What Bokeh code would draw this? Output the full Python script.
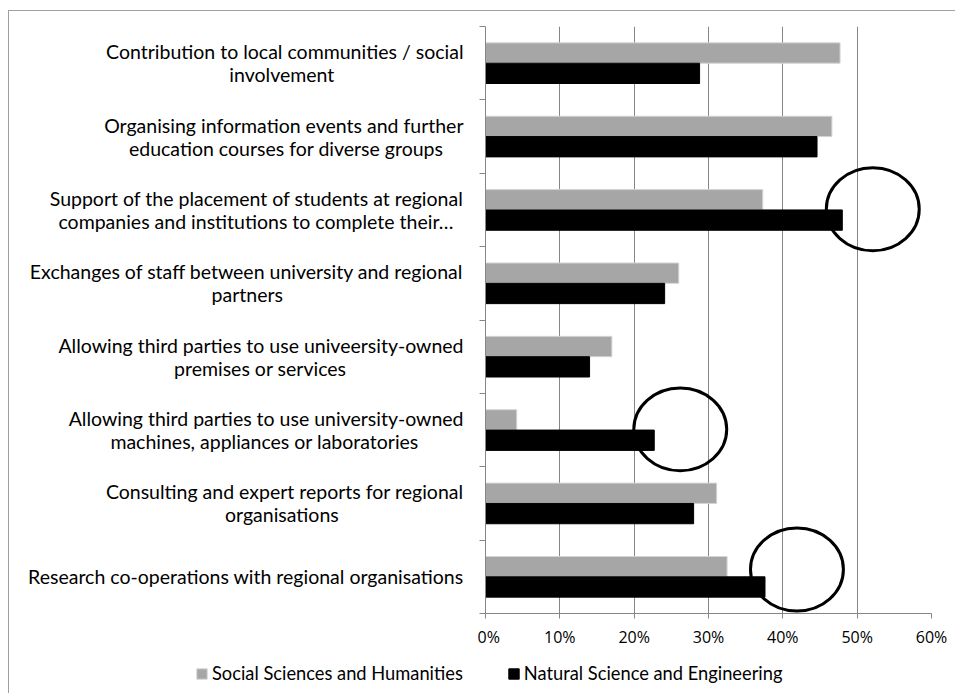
from bokeh.plotting import figure
from bokeh.layouts import column, row
from bokeh.models import (Range1d, LinearAxis, FixedTicker,
                          PrintfTickFormatter, Legend, LegendItem, ColumnDataSource)
from bokeh.core.properties import value
from bokeh.embed import file_html
from bokeh.resources import INLINE

# ---------------- data ----------------
categories = [
    "Contribution to local communities / social\ninvolvement",
    "Organising information events and further\neducation courses for diverse groups",
    "Support of the placement of students at regional\ncompanies and institutions to complete their\u2026",
    "Exchanges of staff between university and regional\npartners",
    "Allowing third parties to use univeersity-owned\npremises or services",
    "Allowing third parties to use university-owned\nmachines, appliances or laboratories",
    "Consulting and expert reports for regional\norganisations",
    "Research co-operations with regional organisations",
]
social = [47.7, 46.6, 37.3, 26.0, 17.0, 4.2, 31.1, 32.5]
natural = [28.8, 44.6, 48.0, 24.1, 14.0, 22.7, 28.0, 37.6]
series_names = ["Social Sciences and Humanities", "Natural Science and Engineering"]
x_ticks = [0, 10, 20, 30, 40, 50, 60]

highlight_cats = [categories[2], categories[5], categories[7]]
highlight_x = [52.1, 26.2, 41.9]
highlight_dy = [0.01, 0.01, 0.10]

# ---------------- styles / layout ----------------
GRAY = "#a6a6a6"
GRAY_EDGE = "#d4d4d4"
AXIS = "#868686"
LABEL_FONT = "Lato"
LABEL_SIZE = "19.5px"
CHAR_W = 8.65          # approx. average advance of the label font, px
LINE_HALF = 11.5       # half line spacing of the two-line labels, px
TICK_FONT = "Open Sans"
BAR_H = 0.277

LABEL_W = 468          # width of the label panel
LABEL_RIGHT = 454      # right edge of the label block inside that panel
MAIN_W = 478
TOP, BOTTOM = 15, 40
FIG_H = 642
LEG_H = 40

n = len(categories)
slot = {c: n - i - 0.5 for i, c in enumerate(categories)}   # category -> band centre
y_range = Range1d(0, n)

# ---------------- main chart ----------------
p = figure(width=MAIN_W, height=FIG_H, y_range=y_range, x_range=Range1d(0, 60),
           output_backend="svg", toolbar_location=None, y_axis_location=None,
           min_border_left=8, min_border_right=24, min_border_top=TOP, min_border_bottom=BOTTOM)
p.outline_line_color = None

yc = [slot[c] for c in categories]
src = ColumnDataSource(dict(cat=categories, social=social, natural=natural,
                            y_s=[y + BAR_H / 2 for y in yc], y_n=[y - BAR_H / 2 for y in yc]))
p.hbar(y="y_s", left=0, right="social", height=BAR_H,
       fill_color=GRAY, line_color=GRAY_EDGE, line_width=1, source=src)
p.hbar(y="y_n", left=0, right="natural", height=BAR_H,
       fill_color="black", line_color="black", line_width=1, source=src)

hl = ColumnDataSource(dict(x=highlight_x,
                           y=[slot[c] + dy for c, dy in zip(highlight_cats, highlight_dy)]))
p.ellipse(x="x", y="y", width=12.5, height=1.13, fill_color=None, line_color="black",
          line_width=3, source=hl)

p.ygrid.visible = False
p.xgrid.grid_line_color = AXIS
p.xgrid.grid_line_width = 1
p.xgrid.ticker = FixedTicker(ticks=x_ticks)

xa = p.xaxis[0]
xa.ticker = FixedTicker(ticks=x_ticks)
xa.formatter = PrintfTickFormatter(format="%d%%")
xa.axis_line_color = AXIS
xa.major_tick_line_color = AXIS
xa.major_tick_out = 5
xa.major_tick_in = 0
xa.minor_tick_line_color = None
xa.major_label_text_font = TICK_FONT
xa.major_label_text_font_size = "16px"
xa.major_label_text_color = "black"
xa.major_label_standoff = 7

tick_axis = LinearAxis(ticker=FixedTicker(ticks=list(range(n + 1))),
                       major_label_overrides={i: "" for i in range(n + 1)},
                       axis_line_color=AXIS, major_tick_line_color=AXIS,
                       major_tick_out=6, major_tick_in=0, minor_tick_line_color=None,
                       major_label_standoff=0)
p.add_layout(tick_axis, "left")

# ---------------- category labels (shares the y range) ----------------
pl = figure(width=LABEL_W, height=FIG_H, y_range=y_range, x_range=Range1d(0, LABEL_W),
            output_backend="svg", toolbar_location=None,
            x_axis_location=None, y_axis_location=None,
            min_border_left=0, min_border_right=0, min_border_top=TOP, min_border_bottom=BOTTOM)
pl.outline_line_color = None
pl.grid.visible = False

lx, ly, lt, la, lyo = [], [], [], [], []
for c in categories:
    lines = c.split("\n")
    if len(lines) == 1:
        lx.append(LABEL_RIGHT); ly.append(slot[c]); lt.append(lines[0]); la.append("right"); lyo.append(0)
    else:
        block_w = max(len(s) for s in lines) * CHAR_W
        lx.append(LABEL_RIGHT); ly.append(slot[c]); lt.append(lines[0]); la.append("right"); lyo.append(-LINE_HALF)
        lx.append(LABEL_RIGHT - block_w / 2); ly.append(slot[c]); lt.append(lines[1]); la.append("center"); lyo.append(LINE_HALF)
lsrc = ColumnDataSource(dict(x=lx, y=ly, text=lt, align=la, yo=lyo))
pl.text(x="x", y="y", text="text", text_align="align", y_offset="yo", text_baseline="middle",
        text_font=value(LABEL_FONT), text_font_size=value(LABEL_SIZE), text_color="black",
        source=lsrc)

# ---------------- legend strip ----------------
pg = figure(width=LABEL_W + MAIN_W, height=LEG_H, x_range=Range1d(0, 1), y_range=Range1d(0, 1),
            output_backend="svg", toolbar_location=None,
            x_axis_location=None, y_axis_location=None,
            min_border_left=0, min_border_right=0, min_border_top=0, min_border_bottom=0)
pg.outline_line_color = None
pg.grid.visible = False
# legend-key renderers: one bar each, placed entirely outside the strip's visible ranges
key_src = ColumnDataSource(dict(y=[50], left=[50], right=[51]))
g1 = pg.hbar(y="y", left="left", right="right", height=1, fill_color=GRAY,
             line_color=GRAY_EDGE, source=key_src)
g2 = pg.hbar(y="y", left="left", right="right", height=1, fill_color="black",
             line_color="black", source=key_src)
legend = Legend(items=[LegendItem(label=series_names[0], renderers=[g1]),
                       LegendItem(label=series_names[1], renderers=[g2])],
                orientation="horizontal", location=(186, 9),
                glyph_width=13, glyph_height=13, label_standoff=4, spacing=44,
                label_text_font=LABEL_FONT, label_text_font_size="18.3px",
                label_text_color="black", label_height=20,
                border_line_color=None, background_fill_alpha=0, padding=0, margin=0)
pg.add_layout(legend, "center")

layout = column(row(pl, p), pg)
layout.styles = {"margin-left": "8px", "margin-top": "10px",
                 "border-left": "1px solid #a0a0a0", "border-top": "1px solid #a0a0a0"}

open("out.html", "w").write(file_html(layout, INLINE))
